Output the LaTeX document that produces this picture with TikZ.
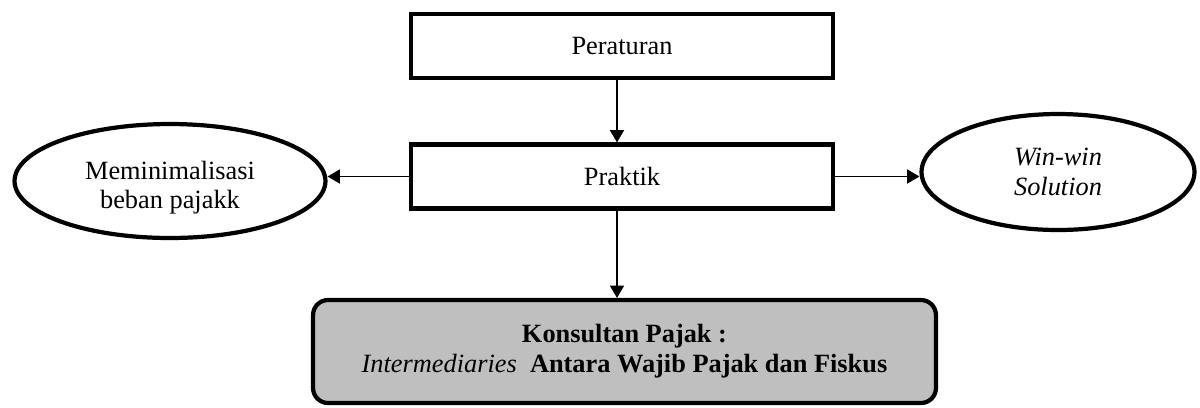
\documentclass[tikz,border=0pt]{standalone}
\usepackage{fontspec}
\setmainfont{Liberation Serif}
\usetikzlibrary{arrows.meta,shapes.geometric}
\definecolor{KonsClr}{rgb}{0.75,0.75,0.75}

\begin{document}
\begin{tikzpicture}[x=0.02cm,y=-0.02cm,
  every node/.style={font=\fontsize{15}{17}\selectfont,align=center,inner sep=2pt},
  box/.style={draw,line width=2.4pt,minimum width=8.44cm,minimum height=1.28cm},
  oval/.style={draw,ellipse,line width=2.4pt},
  kons/.style={draw,line width=2.4pt,rounded corners=8.5pt,fill=KonsClr,minimum width=12.46cm,minimum height=2.06cm},
  arr/.style={-{Triangle[length=7pt,width=8pt]},line width=0.9pt}]
\useasboundingbox (0,0) rectangle (1200,407);

\node[box] (Per) at (622,46) {Peraturan};
\node[box] (Prak) at (622,176.5) {Praktik};

\node[oval,minimum width=6.22cm,minimum height=2.28cm] (Min) at (170,181) {\rule{0pt}{18pt}Meminimalisasi\\beban pajakk};
\node[oval,minimum width=5.46cm,minimum height=2.32cm] (Win) at (1058,172) {\textit{Win-win}\\\textit{Solution}};

\node[kons] (Kons) at (624.5,351.5) {\textbf{Konsultan Pajak :}\\\textit{Intermediaries}\ \ \textbf{Antara Wajib Pajak dan Fiskus}};

\draw[arr] ([xshift=-0.1cm]Per.south) -- ([xshift=-0.1cm]Prak.north);
\draw[arr] ([xshift=-0.1cm]Prak.south) -- ([xshift=-0.1cm]Prak.south |- Kons.north);
\draw[arr] (Prak.west) -- (Prak.west -| Min.east);
\draw[arr] (Prak.east) -- (Prak.east -| Win.west);

\end{tikzpicture}
\end{document}
